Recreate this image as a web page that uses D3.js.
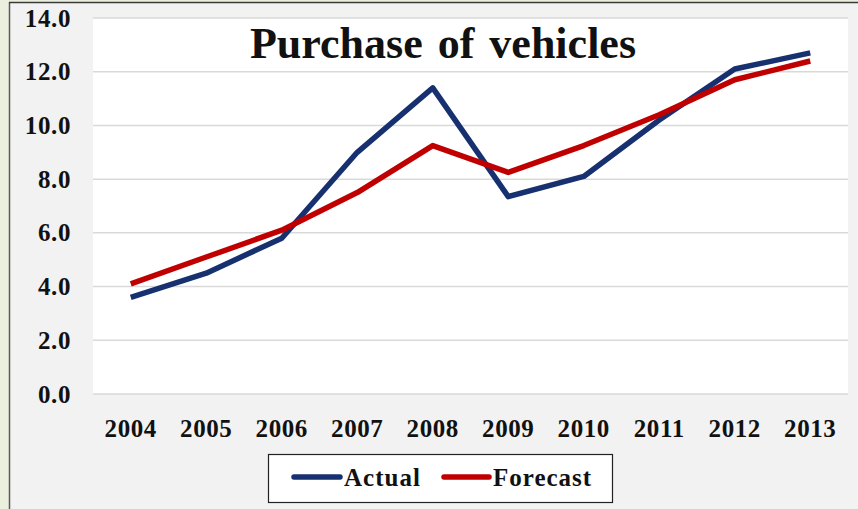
<!DOCTYPE html>
<html>
<head>
<meta charset="utf-8">
<script src="https://cdn.jsdelivr.net/npm/d3@7"></script>
<style>
  html, body { margin: 0; padding: 0; background: #f2f2f2; }
  svg { display: block; }
  text { font-family: "Liberation Serif", "Times New Roman", serif; font-weight: bold; fill: #111; }
</style>
</head>
<body>
<svg id="chart" width="858" height="509"></svg>
<script>
// Years on the category axis
const years = ["2004", "2005", "2006", "2007", "2008", "2009", "2010", "2011", "2012", "2013"];
// Purchase of vehicles, actual and forecast
const actual   = [3.6, 4.5, 5.8, 9.0, 11.4, 7.35, 8.1, 10.2, 12.1, 12.7];
const forecast = [4.1, 5.1, 6.1, 7.5, 9.25, 8.25, 9.25, 10.4, 11.7, 12.4];
const yTicks = [0, 2, 4, 6, 8, 10, 12, 14];

const svg = d3.select("#chart");
const W = 858, H = 509;
const plot = { left: 93, right: 848, top: 18, bottom: 394 };

// Frame: pale strip on the left and along the top edge, with a dark rule
svg.append("rect").attr("x", 0).attr("y", 0).attr("width", W).attr("height", H).attr("fill", "#f2f2f2");
svg.append("rect").attr("x", 0).attr("y", 0).attr("width", 9).attr("height", H).attr("fill", "#ebefde");
svg.append("rect").attr("x", 0).attr("y", 0).attr("width", W).attr("height", 2).attr("fill", "#ebefde");
svg.append("line").attr("x1", 9.5).attr("x2", 9.5).attr("y1", 2).attr("y2", H).attr("stroke", "#5a5a5a").attr("stroke-width", 1.5);
svg.append("line").attr("x1", 9).attr("x2", W).attr("y1", 2.5).attr("y2", 2.5).attr("stroke", "#3a3a3a").attr("stroke-width", 1.5);

// Plot area
svg.append("rect")
  .attr("x", plot.left).attr("y", plot.top)
  .attr("width", plot.right - plot.left).attr("height", plot.bottom - plot.top)
  .attr("fill", "#ffffff");

const x = d3.scaleBand().domain(years).range([plot.left, plot.right]);
const y = d3.scaleLinear().domain([0, 14]).range([plot.bottom, plot.top]);

// Horizontal gridlines
svg.append("g").selectAll("line").data(yTicks).join("line")
  .attr("x1", plot.left).attr("x2", plot.right)
  .attr("y1", d => y(d)).attr("y2", d => y(d))
  .attr("stroke", "#d9d9d9").attr("stroke-width", 1.5);

// Y axis labels
const yAxis = d3.axisLeft(y).tickValues(yTicks).tickFormat(d3.format(".1f")).tickSize(0).tickPadding(0);
const gy = svg.append("g").attr("transform", "translate(71,0)").call(yAxis);
gy.select(".domain").remove();
gy.selectAll("text")
  .attr("font-size", 25).attr("letter-spacing", 0.6)
  .attr("font-family", "Liberation Serif, Times New Roman, serif")
  .attr("font-weight", "bold").attr("fill", "#111");

// X axis labels
const xAxis = d3.axisBottom(x).tickSize(0).tickPadding(0);
const gx = svg.append("g").attr("transform", "translate(0,419)").call(xAxis);
gx.select(".domain").remove();
gx.selectAll("text")
  .attr("font-size", 25).attr("letter-spacing", 0.6)
  .attr("font-family", "Liberation Serif, Times New Roman, serif")
  .attr("font-weight", "bold").attr("fill", "#111");

// Series lines
const cx = d => x(d) + x.bandwidth() / 2;
const line = d3.line().x(d => cx(d.year)).y(d => y(d.value));
const series = [
  { name: "Actual", color: "#17306f", values: actual },
  { name: "Forecast", color: "#c00000", values: forecast }
];
series.forEach(s => {
  svg.append("path")
    .datum(years.map((yr, i) => ({ year: yr, value: s.values[i] })))
    .attr("d", line)
    .attr("fill", "none")
    .attr("stroke", s.color)
    .attr("stroke-width", 5.5)
    .attr("stroke-linejoin", "round");
});

// Title
svg.append("text")
  .attr("x", 443).attr("y", 58)
  .attr("text-anchor", "middle")
  .attr("font-size", 44)
  .attr("word-spacing", 4)
  .text("Purchase of vehicles");

// Legend
const lg = svg.append("g");
lg.append("rect").attr("x", 268.5).attr("y", 454.5).attr("width", 344).attr("height", 48)
  .attr("fill", "#ffffff").attr("stroke", "#222").attr("stroke-width", 1.2);
const legendItems = [
  { s: series[0], x0: 294, x1: 340, tx: 344 },
  { s: series[1], x0: 444, x1: 489, tx: 493 }
];
legendItems.forEach(it => {
  lg.append("line").attr("x1", it.x0).attr("x2", it.x1).attr("y1", 477).attr("y2", 477)
    .attr("stroke", it.s.color).attr("stroke-width", 5.5).attr("stroke-linecap", "round");
  lg.append("text").attr("x", it.tx).attr("y", 486)
    .attr("font-size", 25).attr("letter-spacing", 1)
    .text(it.s.name);
});
</script>
</body>
</html>
